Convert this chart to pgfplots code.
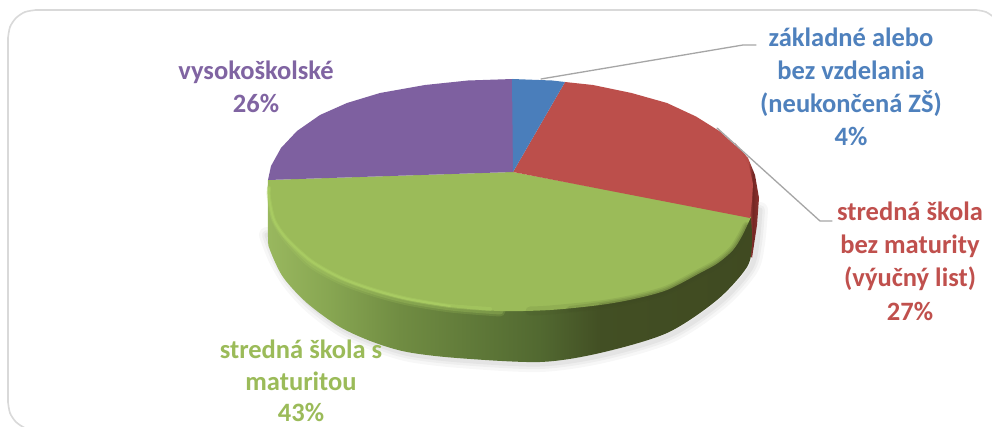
\documentclass[border=0pt]{standalone}
\usepackage{fontspec}
\setmainfont{Carlito}
\usepackage{pgfplots}
\pgfplotsset{compat=1.18}
\definecolor{cblue}{HTML}{4A7EBB}
\definecolor{cred}{HTML}{BC4F4B}
\definecolor{cgreen}{HTML}{9BBB59}
\definecolor{cpurple}{HTML}{7E60A0}
\definecolor{tblue}{HTML}{4F81BD}
\definecolor{tred}{HTML}{C0504D}
\definecolor{tpurple}{HTML}{8064A2}
\definecolor{lead}{HTML}{A6A6A6}
\definecolor{rimlight}{HTML}{AFD267}
\definecolor{rimdark}{HTML}{3F4A22}
\pgfdeclarehorizontalshading{greenside}{100bp}{
 rgb(0bp)=(.60,.72,.37);
 rgb(25bp)=(.60,.72,.37);
 rgb(31.4bp)=(.53,.65,.32);
 rgb(38.6bp)=(.44,.55,.26);
 rgb(46.9bp)=(.37,.47,.22);
 rgb(53.1bp)=(.32,.41,.19);
 rgb(59.3bp)=(.26,.31,.14);
 rgb(75bp)=(.25,.29,.13);
 rgb(100bp)=(.25,.29,.13)}
\pgfdeclarehorizontalshading{redside}{100bp}{
 rgb(0bp)=(.74,.31,.29);
 rgb(25bp)=(.74,.31,.29);
 rgb(52bp)=(.72,.30,.28);
 rgb(62bp)=(.45,.15,.14);
 rgb(75bp)=(.55,.20,.19);
 rgb(100bp)=(.55,.20,.19)}
\newcommand{\lbl}[4]{\node[anchor=base,inner sep=0pt,text=#1,font=\fontsize{26.5}{32}\selectfont\bfseries] at (axis cs:#2,#3) {#4};}
\begin{document}
\begin{tikzpicture}
\begin{axis}[
  scale only axis, width=992pt, height=427pt,
  xmin=0, xmax=992, ymin=0, ymax=427, y dir=reverse,
  hide axis, no markers, clip=true,
  every axis plot/.append style={line join=round,line cap=round}]
% page background: keeps the full picture size
\addplot[fill=white,draw=none] coordinates {(0,0)(992,0)(992,427)(0,427)} --cycle;
% frame
\addplot[color=black!15,line width=1.6pt,smooth] coordinates {(8,402)(10,413)(16,422)(25,428)(36,432)};
\addplot[color=black!15,line width=1.6pt] coordinates {(8,402)(8,38)};
\addplot[color=black!15,line width=1.6pt,smooth] coordinates {(8,38)(10,27)(16,18)(25,12)(36,10)};
\addplot[color=black!15,line width=1.6pt] coordinates {(36,10)(976,10)};
\addplot[color=black!15,line width=1.6pt,smooth] coordinates {(976,10)(986,12)(995,18)};
% shadow
\addplot[color=black,opacity=.03,line width=16pt,smooth] coordinates {(267,235)(276,258)(290,282)(312,306)(343,329)(377,344)(410,354)(460,360)(540,364)(603,355)(670,335)(720,302)(750,269)(757,243)(760,210)};
\addplot[color=black,opacity=.035,line width=10pt,smooth] coordinates {(267,235)(276,258)(290,282)(312,306)(343,329)(377,344)(410,354)(460,360)(540,364)(603,355)(670,335)(720,302)(750,269)(757,243)(760,210)};
\addplot[color=black,opacity=.04,line width=5pt,smooth] coordinates {(267,235)(276,258)(290,282)(312,306)(343,329)(377,344)(410,354)(460,360)(540,364)(603,355)(670,335)(720,302)(750,269)(757,243)(760,210)};
% red side sliver
\addplot[shading=redside,draw=none] coordinates {(735,143)(748,158)(755,175)(759,198)(757,225)(752,258)(740,240)(735,180)} --cycle;
% side of the green slice
\addplot[shading=greenside,draw=none,smooth] coordinates {(268,184)(268,237)(270,250)(283,277)(307,303)(340,327)(373,342)(407,352)(457,358)(540,362)(600,353)(667,333)(717,300)(747,267)(752,243)(751,218)};
% soft light band under the rim (left)
\addplot[color=rimlight,opacity=.18,line width=11pt,smooth] coordinates {(274,205)(277,220)(288,238)(311,262)(341,279)(374,291)(408,300)(451,307)(500,311)};
\addplot[color=rimlight,opacity=.25,line width=7pt,smooth] coordinates {(274,205)(277,220)(288,238)(311,262)(341,279)(374,291)(408,300)(451,307)(500,311)};
% top surface: slices
\addplot[fill=cgreen,draw=none,smooth] coordinates {(751,217)(742,236)(733,250)(718,263)(700,273)(667,290)(634,299)(600,305)(550,310)(500,311)(450,307)(407,300)(373,291)(340,279)(310,262)(285,238)(273,220)(268,198)(268,180)};
\addplot[fill=cgreen,draw=none] coordinates {(751,217)(513,172)(268,180)(400,280)(600,290)} --cycle;
\addplot[fill=cpurple,draw=none] coordinates {(513,172)(268,180)(271,166)(281,148)(297,131)(320,115)(347,103)(380,93)(425,85)(468,80.5)(513,79)} --cycle;
\addplot[fill=cred,draw=none] coordinates {(513,172)(565,82)(593,85)(631.5,93)(667,103)(696,116.5)(720,131.5)(738,148)(749,166)(753,184)(752,200)(750,218)} --cycle;
\addplot[fill=cblue,draw=none] coordinates {(513,172)(512,79)(552,80.5)(565,82)} --cycle;
% bevel: light on the left, dark on the right, both soft
\addplot[color=rimlight,opacity=.35,line width=4pt,smooth] coordinates {(269,188)(269,198)(274,220)(286,238)(311,261)(341,278)(374,290)(408,299)(450,306)(490,309)};
\addplot[color=rimlight,opacity=.55,line width=2pt,smooth] coordinates {(269,188)(269,198)(274,220)(286,238)(311,261)(341,278)(374,290)(408,299)(450,306)};
\addplot[color=rimdark,opacity=.10,line width=9pt,smooth] coordinates {(530,311)(550,310)(600,305)(634,299)(667,290)(700,273)(718,263)(733,250)(742,236)(747,226)};
\addplot[color=rimdark,opacity=.14,line width=6pt,smooth] coordinates {(570,309)(600,305)(634,299)(667,290)(700,273)(718,263)(733,250)(742,236)(747,226)};
\addplot[color=rimdark,opacity=.2,line width=3pt,smooth] coordinates {(600,305)(634,299)(667,290)(700,273)(718,263)(733,250)(742,236)(747,226)};
% leader lines
\addplot[color=lead,line width=1.3pt] coordinates {(541,79)(743,45)(756,45)};
\addplot[color=lead,line width=1.3pt] coordinates {(717,128)(820,221)(832,221)};
% labels
\lbl{tblue}{851}{47}{základné alebo}
\lbl{tblue}{851}{80}{bez vzdelania}
\lbl{tblue}{851}{113}{(neukončená ZŠ)}
\lbl{tblue}{851}{146}{4\%}
\lbl{tred}{910}{221}{stredná škola}
\lbl{tred}{910}{254}{bez maturity}
\lbl{tred}{910}{287}{(výučný list)}
\lbl{tred}{910}{320}{27\%}
\lbl{tpurple}{256}{80}{vysokoškolské}
\lbl{tpurple}{256}{113}{26\%}
\lbl{cgreen}{301}{358}{stredná škola s}
\lbl{cgreen}{301}{390}{maturitou}
\lbl{cgreen}{301}{421}{43\%}
\end{axis}
\end{tikzpicture}
\end{document}
